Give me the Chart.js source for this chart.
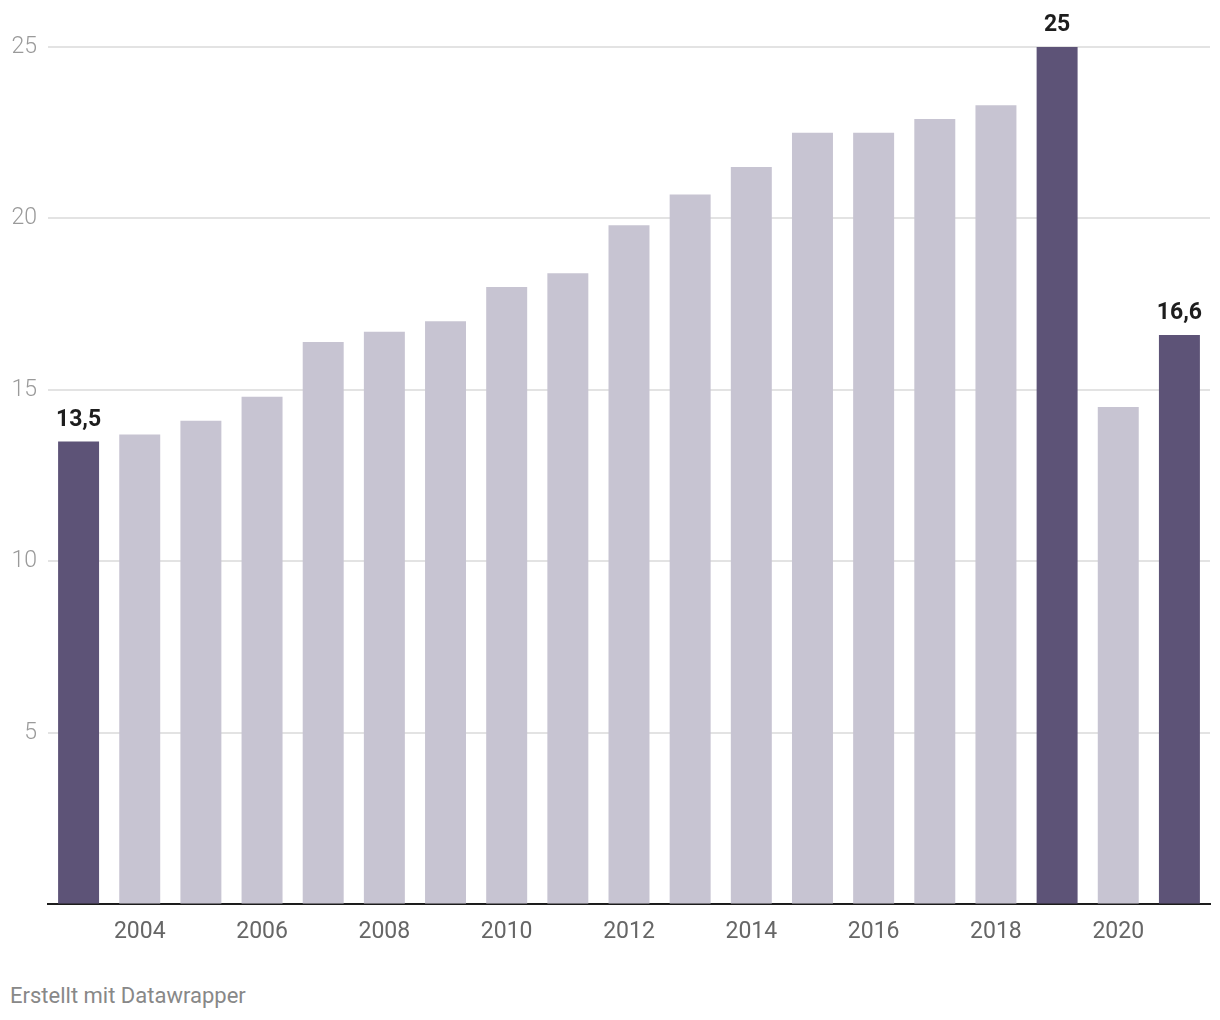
<!DOCTYPE html>
<html>
<head>
<meta charset="utf-8">
<script src="https://cdn.jsdelivr.net/npm/chart.js@4"></script>
<style>
  body { margin: 0; background: #fff; font-family: Roboto, sans-serif; }
  #wrap { position: relative; width: 1220px; height: 952px; }
  #footer { position: absolute; left: 10px; top: 983px; font-size: 22px; color: #888; }
</style>
</head>
<body>
<div id="wrap"><canvas id="myBarChart"></canvas></div>
<div id="footer">Erstellt mit Datawrapper</div>
<script>
// Werte
const years = ['2003', '2004', '2005', '2006', '2007', '2008', '2009', '2010', '2011', '2012',
               '2013', '2014', '2015', '2016', '2017', '2018', '2019', '2020', '2021'];
const values = [13.5, 13.7, 14.1, 14.8, 16.4, 16.7, 17.0, 18.0, 18.4, 19.8,
                20.7, 21.5, 22.5, 22.5, 22.9, 23.3, 25, 14.5, 16.6];
const highlighted = ['2003', '2019', '2021'];
const yTicks = [5, 10, 15, 20, 25];

const dark = '#5d5377';
const light = '#c7c4d2';

// Labels above the highlighted bars
const barLabels = {
    id: 'barLabels',
    afterDatasetsDraw(chart) {
        const ctx = chart.ctx;
        const meta = chart.getDatasetMeta(0);
        ctx.save();
        ctx.font = 'bold 23px Roboto';
        ctx.fillStyle = '#1d1d1d';
        ctx.textAlign = 'center';
        ctx.textBaseline = 'bottom';
        meta.data.forEach((bar, i) => {
            if (highlighted.includes(years[i])) {
                ctx.fillText(String(values[i]).replace('.', ','), bar.x, bar.y - 10);
            }
        });
        ctx.restore();
    }
};

const ctx = document.getElementById('myBarChart').getContext('2d');
const myBarChart = new Chart(ctx, {
    type: 'bar',
    data: {
        labels: years,
        datasets: [{
            data: values,
            backgroundColor: years.map(y => highlighted.includes(y) ? dark : light),
            categoryPercentage: 1,
            barPercentage: 0.67
        }]
    },
    options: {
        responsive: true,
        maintainAspectRatio: false,
        animation: false,
        layout: { padding: { top: 47, right: 10, left: 0, bottom: 0 } },
        plugins: {
            legend: { display: false },
            tooltip: { enabled: false }
        },
        scales: {
            x: {
                grid: { display: false },
                border: { color: '#1d1d1d', width: 2 },
                ticks: {
                    autoSkip: false,
                    maxRotation: 0,
                    padding: 6,
                    color: '#666',
                    font: { family: 'Roboto', size: 23 },
                    callback: function (v, i) { return Number(years[i]) % 2 === 0 ? years[i] : ''; }
                }
            },
            y: {
                min: 0,
                max: 25,
                afterBuildTicks: function (scale) {
                    scale.ticks = [0].concat(yTicks).map(v => ({ value: v }));
                },
                afterFit: function (scale) { scale.width = 48; },
                grid: { color: '#e3e3e3', lineWidth: 2, drawTicks: false },
                border: { display: false },
                ticks: {
                    padding: 11,
                    color: '#9a9a9a',
                    font: { family: 'Roboto', size: 23, weight: 300 },
                    callback: function (v) { return v === 0 ? '' : v; }
                }
            }
        }
    },
    plugins: [barLabels]
});
</script>
</body>
</html>
